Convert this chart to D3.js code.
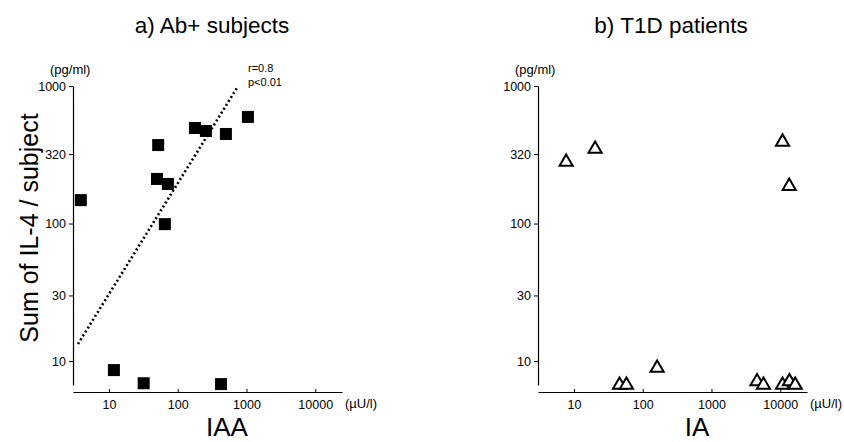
<!DOCTYPE html>
<html>
<head>
<meta charset="utf-8">
<script src="https://cdn.jsdelivr.net/npm/d3@7"></script>
<style>
  body { margin: 0; background: #fff; }
  svg { display: block; font-family: "Liberation Sans", Arial, sans-serif; }
</style>
</head>
<body>
<script>
'use strict';

// a) Ab+ subjects: IAA (uU/l) vs sum of IL-4 (pg/ml)
var abIAA = [3.9, 11.8, 32, 426, 52, 50, 72, 65, 178, 257, 502, 1050];
var abIL4 = [148, 8.6, 6.9, 6.8, 372, 211, 194, 99, 495, 471, 448, 596];

// regression line end points
var fitX = [3.54, 726];
var fitY = [13.3, 967];

// b) T1D patients: IA (uU/l) vs sum of IL-4 (pg/ml)
var t1dIA = [7.7, 20.3, 10800, 13500, 46, 58, 162, 4600, 5700, 10800, 13600, 16500];
var t1dIL4 = [280, 348, 392, 187, 6.7, 6.7, 8.9, 7.1, 6.7, 6.7, 7.1, 6.7];

var xTicks = [10, 100, 1000, 10000];
var yTicks = [10, 30, 100, 320, 1000];

var width = 844;
var height = 442;

var svg = d3.select('body').append('svg')
  .attr('width', width)
  .attr('height', height);

function panel(opts) {
  var g = svg.append('g').attr('transform', 'translate(' + opts.left + ',0)');

  var x = d3.scaleLog().domain([3.0, 24500]).range([0, 269]);
  var y = d3.scaleLog().domain([6.7, 1000]).range([385, 86]);

  // y axis
  var yAxis = d3.axisLeft(y)
    .tickValues(yTicks)
    .tickFormat(d3.format('d'))
    .tickSize(4)
    .tickSizeOuter(0)
    .tickPadding(3);
  var ya = g.append('g').call(yAxis);
  ya.select('.domain').attr('stroke-width', 1.2);
  ya.selectAll('text').style('font-size', '12.5px').attr('fill', '#000');

  // x axis
  var xAxis = d3.axisBottom(x)
    .tickValues(xTicks)
    .tickFormat(d3.format('d'))
    .tickSize(-3)
    .tickSizeOuter(0)
    .tickPadding(8);
  var xa = g.append('g').attr('transform', 'translate(0,392)').call(xAxis);
  xa.select('.domain').attr('stroke-width', 1.2);
  xa.selectAll('text').style('font-size', '12.5px').attr('fill', '#000');

  g.append('text')
    .attr('x', 272)
    .attr('y', 408)
    .style('font-size', '13px')
    .text('(\u00b5U/l)');

  g.append('text')
    .attr('x', -23)
    .attr('y', 74)
    .style('font-size', '13px')
    .text('(pg/ml)');

  g.append('text')
    .attr('x', opts.titleX)
    .attr('y', 33)
    .attr('text-anchor', 'middle')
    .style('font-size', '22.5px')
    .text(opts.title);

  g.append('text')
    .attr('x', opts.xLabelX)
    .attr('y', 436)
    .attr('text-anchor', 'middle')
    .style('font-size', '26px')
    .text(opts.xLabel);

  return { g: g, x: x, y: y };
}

var a = panel({ left: 73, title: 'a) Ab+ subjects', titleX: 139, xLabel: 'IAA', xLabelX: 154 });
var b = panel({ left: 538, title: 'b) T1D patients', titleX: 133, xLabel: 'IA', xLabelX: 159 });

// y title
svg.append('text')
  .attr('transform', 'translate(38,228) rotate(-90)')
  .attr('text-anchor', 'middle')
  .style('font-size', '25px')
  .text('Sum of IL-4 / subject');

// regression line
a.g.append('line')
  .attr('x1', a.x(fitX[0])).attr('y1', a.y(fitY[0]))
  .attr('x2', a.x(fitX[1])).attr('y2', a.y(fitY[1]))
  .attr('stroke', '#000')
  .attr('stroke-width', 2.6)
  .attr('stroke-dasharray', '2,2.6');

a.g.append('text')
  .attr('x', 175).attr('y', 72)
  .style('font-size', '11px')
  .text('r=0.8');
a.g.append('text')
  .attr('x', 175).attr('y', 86)
  .style('font-size', '11px')
  .text('p<0.01');

// squares
var sq = 12;
a.g.selectAll('rect.pt')
  .data(abIAA)
  .enter().append('rect')
  .attr('class', 'pt')
  .attr('x', function(d) { return a.x(d) - sq / 2; })
  .attr('y', function(d, i) { return a.y(abIL4[i]) - sq / 2; })
  .attr('width', sq)
  .attr('height', sq)
  .attr('fill', '#000');

// triangles
var tri = d3.symbol().type(d3.symbolTriangle).size(75);
b.g.selectAll('path.pt')
  .data(t1dIA)
  .enter().append('path')
  .attr('class', 'pt')
  .attr('d', tri)
  .attr('transform', function(d, i) {
    return 'translate(' + b.x(d) + ',' + b.y(t1dIL4[i]) + ')';
  })
  .attr('fill', '#fff')
  .attr('stroke', '#000')
  .attr('stroke-width', 2);
</script>
</body>
</html>
